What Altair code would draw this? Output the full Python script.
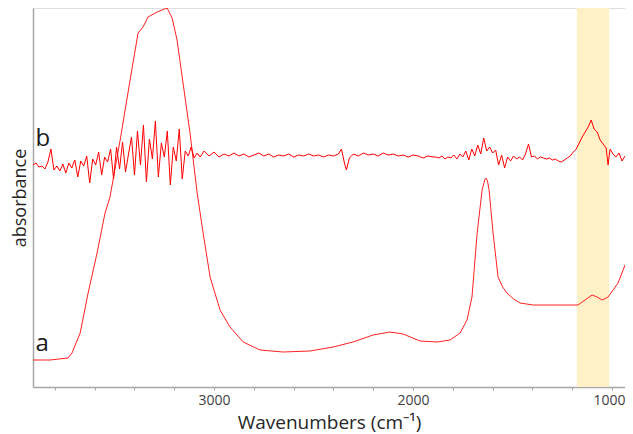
import altair as alt
import pandas as pd

# ---- spectrum a (lower trace) ----
a_wn = [3910, 3824, 3734, 3714, 3673, 3633, 3588, 3548, 3523, 3472, 3422, 3382, 3357,
        3332, 3286, 3236, 3211, 3186, 3156, 3121, 3085, 3055, 3020, 2970, 2920, 2854,
        2769, 2653, 2518, 2402, 2302, 2201, 2116, 2050, 1965, 1879, 1814, 1764, 1729,
        1704, 1678, 1653, 1640, 1633, 1626, 1618, 1598, 1573, 1550, 1528, 1495, 1462,
        1397, 1261, 1171, 1136, 1100, 1075, 1050, 1020, 970, 925, 900, 894]
a_abs = [0.27, 0.27, 0.29, 0.34, 0.54, 0.94, 1.34, 1.74, 1.90, 2.47, 3.07, 3.54, 3.60,
         3.70, 3.75, 3.79, 3.69, 3.47, 3.04, 2.54, 1.94, 1.54, 1.10, 0.77, 0.60, 0.45,
         0.37, 0.35, 0.36, 0.40, 0.45, 0.52, 0.55, 0.53, 0.46, 0.45, 0.47, 0.54, 0.67,
         0.90, 1.54, 1.97, 2.07, 2.09, 2.06, 1.97, 1.54, 1.10, 1.00, 0.94, 0.88, 0.84,
         0.82, 0.82, 0.82, 0.87, 0.92, 0.90, 0.87, 0.90, 1.04, 1.27, 1.47, 1.52]

# ---- spectrum b (upper, noisy trace) ----
b_wn = [3910, 3895, 3880, 3865, 3850, 3835, 3820, 3805, 3790, 3775, 3760, 3745, 3730,
        3715, 3700, 3685, 3670, 3655, 3640, 3625, 3610, 3595, 3580, 3565, 3550, 3535,
        3520, 3505, 3490, 3475, 3460, 3445, 3430, 3415, 3400, 3385, 3370, 3355, 3340,
        3325, 3310, 3295, 3280, 3265, 3250, 3235, 3220, 3205, 3190, 3175, 3160, 3145,
        3130, 3115, 3100, 3085, 3070,
        3050, 3025, 3000, 2975, 2950, 2925, 2900, 2875, 2850, 2825, 2800, 2775, 2750,
        2725, 2700, 2675, 2650, 2625, 2600, 2575, 2550, 2525, 2500, 2475, 2450, 2425,
        2400, 2375, 2360, 2345, 2335, 2320, 2300, 2275, 2250, 2225, 2200, 2175, 2150,
        2125, 2100, 2075, 2050, 2025, 2000, 1975, 1950, 1925, 1900,
        1885, 1870, 1855, 1840, 1825, 1810, 1795, 1780, 1765, 1750, 1735, 1720, 1705,
        1690, 1675, 1660, 1645, 1630, 1615, 1600, 1585, 1570, 1555, 1540, 1525, 1510,
        1495, 1480, 1465, 1450, 1435, 1420, 1405, 1390, 1375, 1360, 1345, 1330, 1315,
        1300, 1285, 1270, 1255, 1240, 1225, 1210, 1195, 1180, 1165, 1150, 1135, 1120,
        1105, 1090, 1075, 1060, 1045, 1030, 1020, 1010, 995, 980, 965, 950, 935,
        920, 905, 894]
b_abs = [2.22, 2.24, 2.20, 2.21, 2.18, 2.25, 2.38, 2.17, 2.21, 2.16, 2.23, 2.14, 2.24,
         2.19, 2.27, 2.10, 2.26, 2.21, 2.31, 2.04, 2.28, 2.22, 2.35, 2.12, 2.30, 2.25,
         2.38, 2.08, 2.40, 2.18, 2.45, 2.15, 2.33, 2.50, 2.12, 2.56, 2.22, 2.62, 2.05,
         2.48, 2.28, 2.66, 2.10, 2.44, 2.30, 2.56, 2.02, 2.40, 2.26, 2.58, 2.08, 2.36,
         2.31, 2.40, 2.29, 2.34, 2.30,
         2.36, 2.31, 2.35, 2.30, 2.33, 2.31, 2.34, 2.31, 2.33, 2.30, 2.32, 2.34, 2.31,
         2.33, 2.30, 2.32, 2.31, 2.33, 2.30, 2.32, 2.31, 2.33, 2.31, 2.32, 2.30, 2.32,
         2.31, 2.33, 2.38, 2.24, 2.17, 2.29, 2.33, 2.31, 2.34, 2.32, 2.33, 2.31, 2.34,
         2.32, 2.33, 2.31, 2.32, 2.30, 2.32, 2.31, 2.29, 2.31, 2.30,
         2.30, 2.29, 2.31, 2.28, 2.30, 2.29, 2.32, 2.28, 2.33, 2.30, 2.36, 2.27, 2.38,
         2.31, 2.42, 2.33, 2.49, 2.36, 2.40, 2.34, 2.37, 2.22, 2.32, 2.19, 2.30, 2.26,
         2.31, 2.28, 2.30, 2.27, 2.33, 2.43, 2.30, 2.31, 2.28, 2.30, 2.29, 2.28, 2.29,
         2.27, 2.28, 2.26, 2.25, 2.27, 2.29, 2.31, 2.35, 2.38, 2.44, 2.50, 2.55, 2.60,
         2.67, 2.58, 2.55, 2.47, 2.43, 2.39, 2.22, 2.38, 2.33, 2.30, 2.34, 2.26, 2.31,
         2.24, 2.33, 2.27]

# ---- highlighted band, labels, axis ----
band_from = [1177]
band_to = [1015]
label_text = ["b", "a"]
label_wn = [3897, 3897]
label_abs = [2.41, 0.36]
x_ticks = [3800, 3600, 3400, 3200, 3000, 2800, 2600, 2400, 2200, 2000,
           1800, 1600, 1400, 1200, 1000]
x_domain = [935, 3910]
y_domain = [0, 3.79]

FONT = "Open Sans"
W, H = 592, 379

df_a = pd.DataFrame({"wn": a_wn, "abs": a_abs})
df_b = pd.DataFrame({"wn": b_wn, "abs": b_abs})
df_band = pd.DataFrame({"wn": band_from, "wn2": band_to})
df_lab = pd.DataFrame({"wn": label_wn, "abs": label_abs, "t": label_text})

x_scale = alt.Scale(domain=x_domain, reverse=True, nice=False, zero=False)
y_scale = alt.Scale(domain=y_domain, nice=False, zero=False)

x_axis = alt.Axis(
    values=x_ticks, format="d",
    labelExpr="datum.value % 1000 == 0 ? datum.label : ''",
    labelOffset={"expr": "datum.value == 1000 ? -3 : 0"},
    title="Wavenumbers (cm⁻¹)", grid=False,
    domainColor="#A6A6A6", domainWidth=1.5,
    tickColor="#A6A6A6", tickSize=3, tickWidth=1,
    labelFont=FONT, labelFontSize=14, labelColor="#404040", labelPadding=3,
    titleFont=FONT, titleFontSize=19, titleFontWeight="normal", titleColor="#262626",
    titlePadding=6,
)
y_axis = alt.Axis(
    title="absorbance", labels=False, ticks=False, grid=False,
    domainColor="#A6A6A6", domainWidth=1.5,
    titleFont=FONT, titleFontSize=18, titleFontWeight="normal", titleColor="#262626",
    titlePadding=8, titleBaseline="alphabetic",
)

band = alt.Chart(df_band).mark_rect(color="#FFF0C8").encode(
    x=alt.X("wn:Q", scale=x_scale, axis=x_axis),
    x2="wn2:Q",
)

line_a = alt.Chart(df_a).mark_line(color="#FF2020", strokeWidth=1, clip=True).encode(
    x=alt.X("wn:Q", scale=x_scale, axis=x_axis),
    y=alt.Y("abs:Q", scale=y_scale, axis=y_axis),
)

line_b = alt.Chart(df_b).mark_line(color="#FF0000", strokeWidth=1, clip=True).encode(
    x=alt.X("wn:Q", scale=x_scale, axis=x_axis),
    y=alt.Y("abs:Q", scale=y_scale, axis=y_axis),
)

labels = alt.Chart(df_lab).mark_text(
    align="left", baseline="alphabetic", font=FONT, fontSize=24, color="#1a1a1a"
).encode(
    x=alt.X("wn:Q", scale=x_scale, axis=x_axis),
    y=alt.Y("abs:Q", scale=y_scale, axis=y_axis),
    text="t:N",
)

chart = alt.layer(band, line_a, line_b, labels).properties(
    width=W, height=H,
    autosize=alt.AutoSizeParams(type="none"),
    padding={"left": 25, "top": 0, "right": 0, "bottom": 46},
).configure_view(stroke=None).configure(background="white")

chart.save("out.html", embed_options={"renderer": "svg", "actions": False})
